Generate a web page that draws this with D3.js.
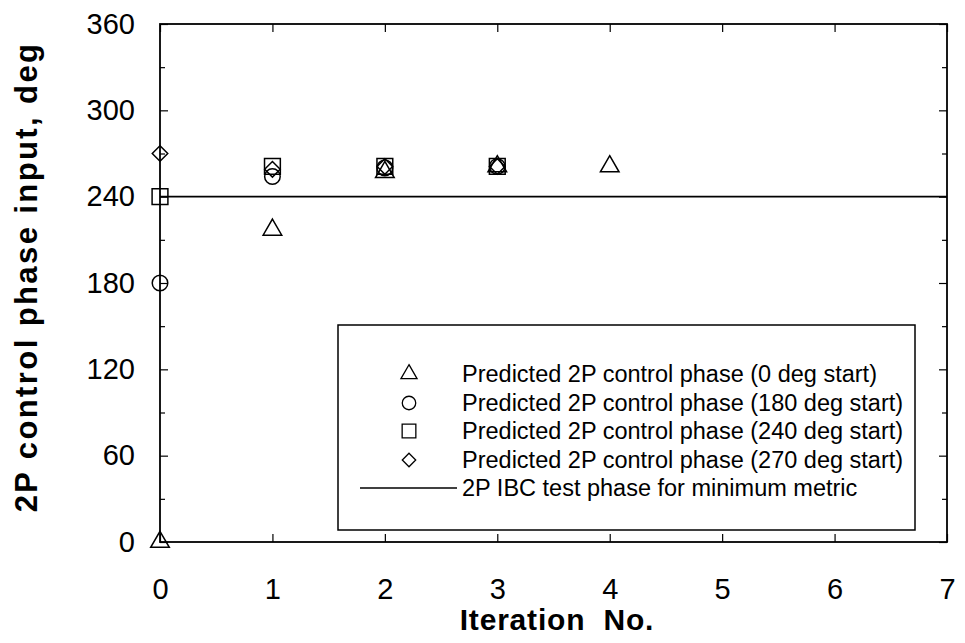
<!DOCTYPE html>
<html>
<head>
<meta charset="utf-8">
<script src="https://cdn.jsdelivr.net/npm/d3@7/dist/d3.min.js"></script>
<style>
  html, body { margin: 0; padding: 0; background: #fff; }
  svg text { font-family: "Liberation Sans", Arial, Helvetica, sans-serif; fill: #000; }
</style>
</head>
<body>
<svg id="chart" width="965" height="643"></svg>
<script>
// Iteration numbers and predicted 2P control phase (deg) for each starting phase
const iterations = [0, 1, 2, 3, 4];
const start0   = [0, 217, 257, 261, 261];
const start180 = [180, 254, 260, 261];
const start240 = [240, 261, 261, 261];
const start270 = [270, 259, 261, 261];
const testPhase = 240;               // IBC test phase giving minimum metric

const xTicks = [0, 1, 2, 3, 4, 5, 6, 7];
const yTicks = [0, 60, 120, 180, 240, 300, 360];
const yMinor = [30, 90, 150, 210, 270, 330];

const seriesNames = [
  "Predicted 2P control phase (0 deg start)",
  "Predicted 2P control phase (180 deg start)",
  "Predicted 2P control phase (240 deg start)",
  "Predicted 2P control phase (270 deg start)"
];
const lineName = "2P IBC test phase for minimum metric";

const plot = { left: 160, right: 947, top: 24, bottom: 542 };

const svg = d3.select("#chart");
const x = d3.scaleLinear().domain([0, 7]).range([plot.left, plot.right]);
const y = d3.scaleLinear().domain([0, 360]).range([plot.bottom, plot.top]);

// square-proportioned diamond (width equals height)
const squareDiamond = {
  draw(ctx, size) {
    const r = Math.sqrt(size / 2);
    ctx.moveTo(0, -r); ctx.lineTo(r, 0); ctx.lineTo(0, r); ctx.lineTo(-r, 0); ctx.closePath();
  }
};
const shapes = [d3.symbolTriangle, d3.symbolCircle, d3.symbolSquare, squareDiamond];
const sizes = [150, 190, 250, 120];

// reference line
svg.append("line")
  .attr("x1", x(0)).attr("x2", x(7))
  .attr("y1", y(testPhase)).attr("y2", y(testPhase))
  .attr("stroke", "#000").attr("stroke-width", 1.6);

// frame
svg.append("rect")
  .attr("x", plot.left).attr("y", plot.top)
  .attr("width", plot.right - plot.left).attr("height", plot.bottom - plot.top)
  .attr("fill", "none").attr("stroke", "#000").attr("stroke-width", 1.8);

// axes with inward ticks
const gBottom = svg.append("g").attr("transform", `translate(0,${plot.bottom})`)
  .call(d3.axisBottom(x).tickValues(xTicks).tickSize(-8).tickPadding(36).tickFormat(d3.format("d")));
const gTop = svg.append("g").attr("transform", `translate(0,${plot.top})`)
  .call(d3.axisTop(x).tickValues(xTicks).tickSize(-8).tickFormat(""));
const gLeft = svg.append("g").attr("transform", `translate(${plot.left},0)`)
  .call(d3.axisLeft(y).tickValues(yTicks).tickSize(-8).tickPadding(25).tickFormat(d3.format("d")));
const gLeftMinor = svg.append("g").attr("transform", `translate(${plot.left},0)`)
  .call(d3.axisLeft(y).tickValues(yMinor).tickSize(-5).tickFormat(""));
const gRight = svg.append("g").attr("transform", `translate(${plot.right},0)`)
  .call(d3.axisRight(y).tickValues(yTicks).tickSize(-8).tickFormat(""));
const gRightMinor = svg.append("g").attr("transform", `translate(${plot.right},0)`)
  .call(d3.axisRight(y).tickValues(yMinor).tickSize(-5).tickFormat(""));

[gBottom, gTop, gLeft, gLeftMinor, gRight, gRightMinor].forEach(g => {
  g.select(".domain").remove();
  g.selectAll("line").attr("stroke", "#000").attr("stroke-width", 1.2);
  g.selectAll("text").style("font-size", "29px").attr("fill", "#000");
});

// axis titles
svg.append("text")
  .attr("x", 557).attr("y", 630)
  .attr("text-anchor", "middle")
  .style("font-size", "30px").style("font-weight", "bold")
  .style("letter-spacing", "0.8px")
  .attr("xml:space", "preserve")
  .text("Iteration  No.");
svg.append("text")
  .attr("transform", `translate(37,277) rotate(-90)`)
  .attr("text-anchor", "middle")
  .style("font-size", "31px").style("font-weight", "bold")
  .style("letter-spacing", "2.4px")
  .text("2P control phase input, deg");

// data markers
const allSeries = [start0, start180, start240, start270];
allSeries.forEach((vals, i) => {
  svg.append("g").selectAll("path")
    .data(vals.map((v, k) => [iterations[k], v]))
    .join("path")
    .attr("transform", d => `translate(${x(d[0])},${y(d[1])})`)
    .attr("d", d3.symbol().type(shapes[i]).size(sizes[i]))
    .attr("fill", "none").attr("stroke", "#000").attr("stroke-width", 1.5);
});

// legend
const lg = { x: 338, y: 325, w: 577, h: 205 };
svg.append("rect")
  .attr("x", lg.x).attr("y", lg.y).attr("width", lg.w).attr("height", lg.h)
  .attr("fill", "#fff").attr("stroke", "#000").attr("stroke-width", 1.5);
const rowY = [374, 403, 431, 460, 488];
const markX = 409, textX = 462;
seriesNames.forEach((name, i) => {
  svg.append("path")
    .attr("transform", `translate(${markX},${rowY[i]})`)
    .attr("d", d3.symbol().type(shapes[i]).size(sizes[i] * 0.75))
    .attr("fill", "none").attr("stroke", "#000").attr("stroke-width", 1.3);
  svg.append("text")
    .attr("x", textX).attr("y", rowY[i]).attr("dy", "0.35em")
    .style("font-size", "23.5px").text(name);
});
svg.append("line")
  .attr("x1", 360).attr("x2", 457).attr("y1", rowY[4]).attr("y2", rowY[4])
  .attr("stroke", "#000").attr("stroke-width", 1.3);
svg.append("text")
  .attr("x", textX).attr("y", rowY[4]).attr("dy", "0.35em")
  .style("font-size", "23.5px").text(lineName);
</script>
</body>
</html>
